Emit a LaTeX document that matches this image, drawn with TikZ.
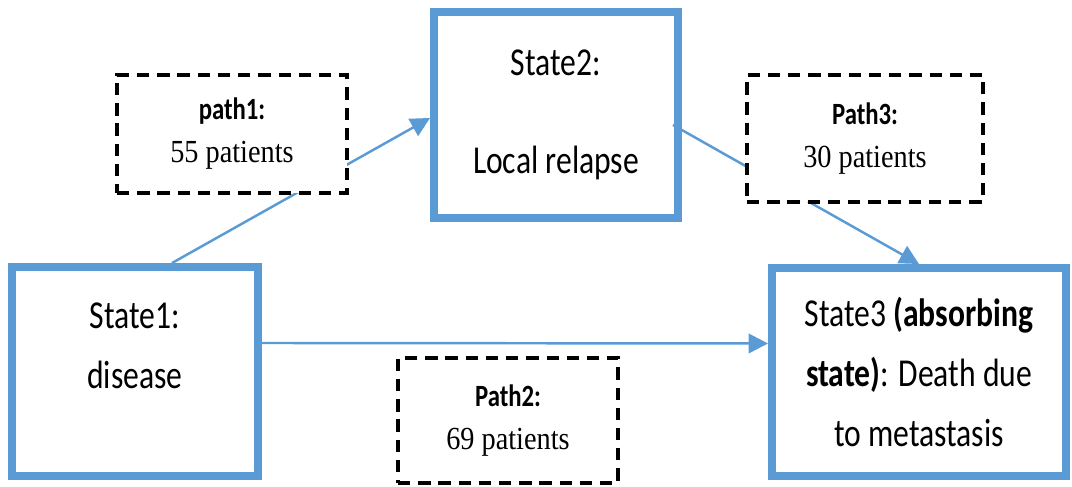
\documentclass[tikz,border=0pt]{standalone}
\usepackage{fontspec}
\setmainfont{Carlito}[FakeStretch=0.8]
\newfontfamily\numfont{Liberation Serif}[FakeStretch=0.88]
\usetikzlibrary{arrows.meta}
\definecolor{stateblue}{HTML}{5B9BD5}

\begin{document}
\begin{tikzpicture}
    [scale=1,
     state/.style={draw=stateblue,line width=4.5pt,fill=white,align=center,
       font=\fontsize{22.5}{34}\selectfont},
     pathbox/.style={draw=black,line width=2.3pt,dash pattern=on 7pt off 4.5pt,
       fill=white,align=center,font=\fontsize{18.3}{24.4}\selectfont},
     conn/.style={draw=stateblue,line width=1.4pt,-{Triangle[length=11pt,width=11pt]}}]
    \useasboundingbox (0,0) rectangle (21.44,9.74);

    \node[state,minimum width=4.92cm,minimum height=4.18cm] (s1) at (2.70,2.31)
      {State1:\\disease\\[-15pt]\strut};
    \node[state,minimum width=4.88cm,minimum height=4.12cm] (s2) at (11.12,7.44)
      {State2:\\[22pt]Local relapse};
    \node[state,minimum width=5.88cm,minimum height=4.16cm] (s3) at (18.38,2.30)
      {State3 \textbf{(absorbing}\\\textbf{state)}: Death due\\to metastasis};

    \draw[conn] ([xshift=0.74cm]s1.north) -- ([yshift=-0.06cm]s2.west);
    \draw[conn] ([shift={(-0.18cm,-0.2cm)}]s2.east) -- (s3.north);
    \draw[conn] ([yshift=0.57cm]s1.east) -- ([yshift=0.57cm]s3.west);

    \node[pathbox,minimum width=4.6cm,minimum height=2.36cm] (p1) at (4.64,7.06)
      {\textbf{\fontsize{17.6}{24.4}\selectfont path1:}\\{\numfont 55 patients}};
    \node[pathbox,minimum width=4.72cm,minimum height=2.54cm] (p3) at (17.30,6.97)
      {\textbf{\fontsize{17.6}{24.4}\selectfont Path3:}\\{\numfont 30 patients}};
    \node[pathbox,minimum width=4.4cm,minimum height=2.5cm] (p2) at (10.16,1.33)
      {\textbf{\fontsize{17.6}{24.4}\selectfont Path2:}\\{\numfont 69 patients}};
  \end{tikzpicture}
\end{document}
